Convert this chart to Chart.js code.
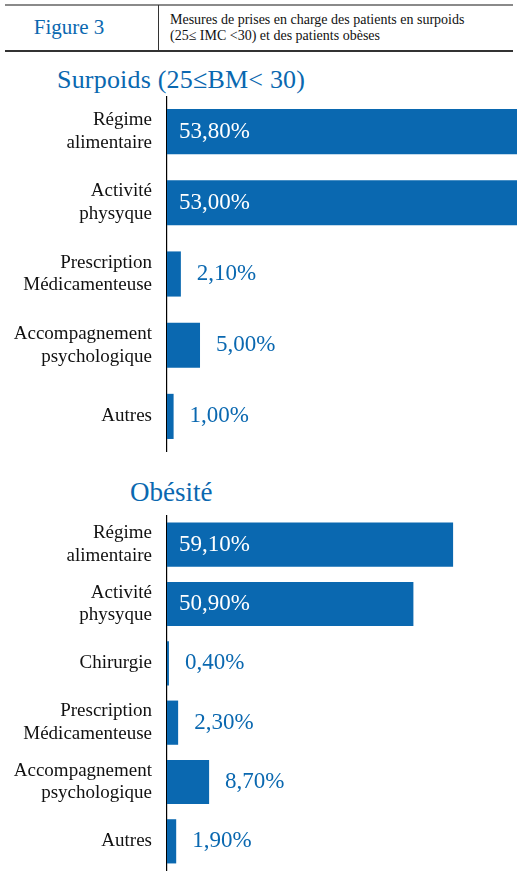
<!DOCTYPE html>
<html><head><meta charset="utf-8">
<script src="https://cdn.jsdelivr.net/npm/chart.js@4.4.1/dist/chart.umd.min.js"></script>
<style>
html,body{margin:0;padding:0;background:#fff;width:520px;height:880px;overflow:hidden;font-family:"Liberation Serif",serif;}
#hdrTop{position:absolute;left:5px;top:4px;width:508px;height:2px;background:#8a8a8a;}
#hdrBot{position:absolute;left:5px;top:50px;width:508px;height:2px;background:#333;}
#hdrDiv{position:absolute;left:158px;top:5px;width:1px;height:46px;background:#333;}
#fig{position:absolute;left:0;width:138px;top:15px;text-align:center;color:#0a68b0;font-size:21px;}
#desc{position:absolute;left:170px;top:12px;font-size:14px;line-height:16px;color:#111;}
.ttl{position:absolute;color:#0a68b0;font-size:26px;}
.wrap{position:absolute;left:0;width:520px;}
</style></head>
<body>
<div id="hdrTop"></div><div id="hdrBot"></div><div id="hdrDiv"></div>
<div id="fig">Figure 3</div>
<div id="desc">Mesures de prises en charge des patients en surpoids<br>(25≤ IMC &lt;30) et des patients obèses</div>
<div class="ttl" style="left:57px;top:65px;letter-spacing:0.2px;">Surpoids (25≤BM&lt; 30)</div>
<div class="ttl" style="left:130px;top:477px;font-size:27px;">Obésité</div>
<div class="wrap" style="top:96px;height:356px;"><canvas id="c1"></canvas></div>
<div class="wrap" style="top:515px;height:356px;"><canvas id="c2"></canvas></div>
<script>
const surpoidsCategories = [["Régime","alimentaire"],["Activité","physyque"],["Prescription","Médicamenteuse"],["Accompagnement","psychologique"],"Autres"];
const surpoidsValues = [53.8, 53.0, 2.1, 5.0, 1.0];
const surpoidsLabels = ["53,80%","53,00%","2,10%","5,00%","1,00%"];
const obesiteCategories = [["Régime","alimentaire"],["Activité","physyque"],"Chirurgie",["Prescription","Médicamenteuse"],["Accompagnement","psychologique"],"Autres"];
const obesiteValues = [59.1, 50.9, 0.4, 2.3, 8.7, 1.9];
const obesiteLabels = ["59,10%","50,90%","0,40%","2,30%","8,70%","1,90%"];

const BLUE = '#0a68b0';
const valueLabelPlugin = {
  id:'valueLabels',
  afterDatasetsDraw(chart){
    const ctx = chart.ctx;
    const meta = chart.getDatasetMeta(0);
    const texts = chart.options.plugins.valueLabels.texts;
    ctx.save();
    ctx.font = '23px "Liberation Serif", serif';
    ctx.textBaseline = 'middle';
    ctx.textAlign = 'left';
    meta.data.forEach((bar,i)=>{
      const w = bar.x - bar.base;
      if (w > 100) {
        ctx.fillStyle = '#fff';
        ctx.fillText(texts[i], bar.base + 12, bar.y);
      } else {
        ctx.fillStyle = BLUE;
        ctx.fillText(texts[i], bar.x + 16, bar.y);
      }
    });
    ctx.restore();
  }
};

function make(id, cats, vals, texts, max, barPct){
  new Chart(document.getElementById(id), {
    type:'bar',
    data:{labels:cats, datasets:[{data:vals, backgroundColor:BLUE, barPercentage:barPct, categoryPercentage:1}]},
    plugins:[valueLabelPlugin],
    options:{
      indexAxis:'y', responsive:true, maintainAspectRatio:false, animation:false,
      layout:{padding:{left:0,right:3,top:0,bottom:0}},
      plugins:{legend:{display:false}, tooltip:{enabled:false}, valueLabels:{texts:texts}},
      scales:{
        x:{display:false, min:0, max:max},
        y:{
          grid:{display:false, drawTicks:false},
          border:{display:true, color:'#000', width:1.2},
          ticks:{color:'#111', padding:15, font:{family:'"Liberation Serif", serif', size:19, lineHeight:1.2}},
          afterFit(s){ s.width = 167; s.paddingTop = 0; s.paddingBottom = 0; }
        }
      }
    }
  });
}
make('c1', surpoidsCategories, surpoidsValues, surpoidsLabels, 53, 0.634);
make('c2', obesiteCategories, obesiteValues, obesiteLabels, 72.3, 0.745);
</script>
</body></html>
